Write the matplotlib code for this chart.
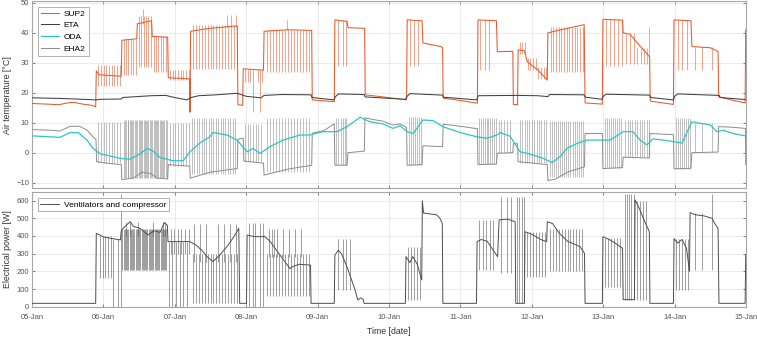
import numpy as np
import matplotlib.pyplot as plt

# time axis: hours since 05-Jan 00:00
day_labels = ['05-Jan', '06-Jan', '07-Jan', '08-Jan', '09-Jan', '10-Jan',
              '11-Jan', '12-Jan', '13-Jan', '14-Jan', '15-Jan']

# ---- air temperatures [degC], (hour, value) breakpoints ----
sup2 = [(0, 16.4), (5, 16.2), (9, 16.0), (12, 16.6), (14, 16.8), (17, 16.2), (20, 15.8), (21.4, 15.3),
        (21.6, 27.3), (22.5, 26.0), (30.0, 25.5),
        (30.2, 37.5), (35.2, 38.0), (35.4, 43.0), (40.2, 44.0),
        (40.4, 38.8), (45.6, 38.5), (45.8, 25.0), (53.0, 24.6),
        (53.1, 13.5), (53.3, 40.5), (60, 41.5), (69.0, 42.3),
        (69.2, 16.0), (70.8, 15.8), (71.0, 28.0), (77.8, 27.5),
        (78.0, 40.5), (86, 41.0), (94.0, 40.8),
        (94.2, 17.6), (101.6, 17.0),
        (101.8, 44.3), (105.9, 43.8), (106.2, 41.7), (111.8, 41.5),
        (112.0, 19.3), (118, 18.6), (125.9, 17.6),
        (126.1, 44.3), (131.1, 44.0), (131.4, 36.6), (137.5, 35.4), (138.0, 35.0),
        (138.2, 18.2), (144, 17.4), (149.7, 16.5),
        (149.9, 44.3), (156.1, 44.0), (156.4, 33.7), (161.6, 33.8),
        (161.8, 16.1), (163.2, 16.0),
        (163.4, 34.3), (165.5, 34.0), (166.5, 30.3), (170, 27.6), (173.2, 24.2),
        (173.4, 40.0), (180, 41.5), (185.6, 42.7),
        (185.9, 16.6), (191.7, 16.2),
        (191.9, 44.5), (198.5, 44.2), (198.7, 40.0), (201, 39.5), (204, 36.0), (207.6, 32.0),
        (207.8, 17.2), (215.6, 16.1),
        (215.8, 44.3), (221.5, 44.0), (221.8, 35.4), (228, 35.0), (230.6, 33.8),
        (230.8, 18.7), (235, 17.6), (239.7, 16.6), (239.9, 41.0), (240, 41.0)]

sup2_spikes = [([22.3, 23.2, 24.1, 25.0, 25.9, 26.8, 27.7, 28.6, 29.5], 22.3, 29.3),
               ([30.8, 31.6, 32.4, 33.2, 34.0, 34.8], 25.8, 38.0),
               ([35.9, 36.7, 37.5, 38.3, 39.1, 39.9], 28.5, 45.5),
               ([37.3], 43.0, 48.0),
               ([40.9, 41.7, 42.5, 43.3, 44.1, 44.9], 27.0, 39.0),
               ([46.4, 47.3, 48.2, 49.1, 50.0, 50.9, 51.8, 52.7], 24.2, 27.6),
               ([54.0, 55.0, 56.0, 57.0, 58.0, 59.0, 60.0, 61.0, 62.0, 63.0, 64.0, 65.0, 66.0, 67.0, 68.0], 28.0, 42.5),
               ([65.5, 67.0, 68.5], 42.0, 45.8),
               ([71.6, 72.5, 73.4, 75.8, 77.2], 23.5, 28.0),
               ([74.3, 76.6], 13.4, 27.7),
               ([79.0, 80.0, 81.0, 82.0, 83.0, 84.0, 85.0, 86.0, 87.0, 88.0, 89.0, 90.0, 91.0, 92.0, 93.0], 27.0, 41.0),
               ([85.6], 41.0, 44.3),
               ([102.9, 104.4, 105.6], 29.0, 44.3),
               ([127.1, 128.4, 129.7], 29.0, 44.3),
               ([150.6, 152.1, 153.6], 27.7, 44.3),
               ([164.0, 164.8, 165.6], 33.0, 37.0),
               ([166.6, 167.5, 168.4, 169.3], 27.5, 31.5),
               ([170.2, 171.1, 172.0, 172.9], 24.5, 28.5),
               ([174.3, 175.2, 176.1, 177.0, 177.9, 178.8, 179.7, 180.6, 181.5, 182.4, 183.3, 184.2, 185.1], 27.0, 42.0),
               ([193.0, 194.3, 195.6, 196.9, 198.2], 29.0, 44.5),
               ([199.8, 201.0, 202.2], 29.5, 39.8),
               ([203.4, 204.6, 205.8, 206.8], 29.5, 35.0),
               ([207.5], 32.0, 42.0),
               ([217.0, 218.5, 220.0], 27.7, 44.3),
               ([222.9, 225.2, 228.6], 27.7, 35.2)]

eta = [(0, 18.3), (9, 18.1), (15, 17.9), (21.5, 17.6), (23, 17.8), (30, 17.9), (30.5, 18.4), (40, 19.0),
       (45, 19.1), (47, 18.6), (52, 17.6), (53.5, 18.4), (56, 19.0), (62, 19.3), (66, 19.6), (69, 19.8),
       (72, 18.8), (77, 18.3), (78, 19.1), (84, 19.4), (93.8, 19.3), (94.1, 18.4), (101.5, 17.6),
       (102, 18.7), (103, 19.6), (111.6, 19.4), (112, 18.6), (125.5, 17.8), (126.1, 18.8), (127, 19.7),
       (138, 19.2), (138.3, 18.5), (149.5, 17.6), (150, 19.0), (163, 19.1), (170, 19.0), (173.4, 18.7),
       (174, 19.4), (185.5, 19.3), (186, 18.5), (191.6, 17.8), (192, 18.8), (193, 19.5), (207.5, 19.2),
       (207.9, 18.4), (215.6, 17.6), (216, 18.8), (217, 19.6), (231, 19.1), (231.2, 18.4), (240, 17.7)]

oda = [(0, 5.6), (9.4, 5.1), (12.8, 6.7), (15.5, 6.7), (18.5, 4.2), (20.5, 1.4), (22.9, -0.4), (26.2, -1.1),
       (29.6, -1.9), (32.9, -2.2), (36.3, -0.4), (38.7, 1.4), (40.7, 0.5), (43.0, -1.6), (47.4, -2.7),
       (50.8, -2.7), (53.1, 0.3), (56.5, 3.3), (59.8, 5.3), (60.8, 6.7), (65.5, 5.9), (68.9, 4.2),
       (72.3, 0.3), (74.3, 1.4), (76.6, -0.3), (80.0, 2.0), (84.4, 4.2), (90.1, 5.9), (93.4, 5.9),
       (97.8, 7.0), (102.5, 7.0), (105.9, 8.7), (110.3, 11.8), (113.6, 10.3), (118.0, 9.6), (121.3, 8.1),
       (123.7, 9.0), (126.1, 7.0), (128.1, 6.4), (131.4, 10.9), (134.8, 10.7), (138.1, 8.7), (143.9, 6.7),
       (149.6, 5.3), (152.9, 4.8), (156.3, 5.9), (157.3, 6.7), (160.7, 5.5), (164.0, 0.3), (166.4, -0.2),
       (168.4, -0.8), (171.8, -1.9), (174.8, -3.3), (177.5, -1.3), (179.8, 1.4), (183.2, 3.1), (186.5, 4.2),
       (190.9, 4.2), (194.3, 4.2), (198.7, 7.0), (202.0, 7.0), (204.4, 4.2), (206.7, 2.6), (208.7, 4.6),
       (212.1, 4.2), (215.5, 3.7), (218.5, 3.2), (221.8, 10.3), (224.5, 9.8), (227.9, 9.3), (230.2, 7.0),
       (232.3, 7.5), (235.6, 6.4), (239.7, 5.6), (240, 5.2)]

eha2 = [(0, 7.7), (6, 7.5), (9.4, 7.2), (12.8, 8.8), (16, 8.8), (18.5, 7.5), (20.8, 4.9), (21.5, 4.5),
        (21.7, -3.0), (25, -3.5), (30.0, -4.0),
        (30.2, -9.0), (34, -8.5), (37, -6.5), (40, -7.0), (42, -8.5), (45.6, -8.8),
        (45.8, -4.0), (53.0, -4.5), (53.2, -8.5), (60, -6.5), (69.0, -5.3),
        (69.2, 4.5), (71.0, 4.8), (71.2, -2.8), (77.8, -3.5),
        (78.0, -7.5), (86, -5.5), (94.0, -4.2),
        (94.2, 6.5), (98, 7.3), (101.6, 9.6),
        (101.8, -4.2), (105.9, -4.2), (106.2, 0.0), (111.7, 0.5),
        (111.9, 11.6), (115, 11.0), (118, 10.5), (121.3, 9.2), (123.7, 9.6), (125.9, 8.4),
        (126.1, -4.2), (131.1, -4.0), (131.4, 2.3), (138.0, 2.0),
        (138.2, 9.5), (143.9, 8.8), (149.7, 8.0),
        (149.9, -4.0), (156.1, -3.8), (156.4, -0.2), (161.6, 0.0),
        (161.8, 3.0), (163.2, 3.0), (163.4, -3.0), (173.2, -4.0),
        (173.4, -9.3), (176, -8.8), (180, -6.5), (185.7, -4.7),
        (185.9, 6.4), (191.7, 6.4),
        (191.9, -5.3), (198.5, -5.0), (198.7, -1.5), (207.5, -1.8),
        (207.7, 6.4), (215.6, 6.0),
        (215.8, -5.4), (221.5, -5.2), (221.8, 0.0), (230.6, 0.2),
        (230.8, 8.7), (235, 8.5), (239.8, 8.1), (239.9, -4.0), (240, -4.0)]

eha2_spikes = [([22.3, 23.2, 24.1, 25.0, 25.9, 26.8, 27.7, 28.6, 29.5], -3.5, 10.3),
               ([30.8, 31.3, 31.6, 32.1, 32.4, 32.9, 33.2, 33.7, 34.0, 34.5, 34.8, 35.3, 35.9, 36.3, 36.7,
                 37.1, 37.5, 37.9, 38.3, 38.7, 39.1, 39.5, 39.9, 40.4, 40.9, 41.3, 41.7, 42.1, 42.5, 42.9,
                 43.3, 43.7, 44.1, 44.5, 44.9, 45.3], -8.5, 10.8),
               ([46.4, 47.3, 48.2, 49.1, 50.0, 50.9, 51.8, 52.7], -4.3, 10.0),
               ([53.8, 54.6, 55.4, 56.2, 57.0, 57.8, 58.6, 59.4, 60.2, 61.0, 61.8, 62.6, 63.4, 64.2, 65.0,
                 65.8, 66.6, 67.4, 68.2], -7.0, 11.5),
               ([71.6, 72.5, 73.4, 74.3, 75.2, 76.1, 77.0], -3.2, 9.5),
               ([79.0, 80.0, 81.0, 82.0, 83.0, 84.0, 85.0, 86.0, 87.0, 88.0, 89.0, 90.0, 91.0, 92.0, 93.0], -6.5, 11.4),
               ([102.2, 102.9, 103.7, 104.4, 105.2, 105.6], -4.2, 11.4),
               ([126.7, 127.4, 128.1, 128.7, 129.4, 130.1, 130.7], -4.1, 12.0),
               ([150.3, 150.9, 151.5, 152.1, 152.8, 153.4, 154.0, 154.6, 155.2, 155.8], -3.9, 11.4),
               ([156.8, 157.8, 158.8, 159.8, 160.8], -0.1, 11.0),
               ([164.0, 164.8, 165.6, 166.4, 167.2, 168.0, 168.8, 169.6, 170.4, 171.2, 172.0, 172.8], -3.5, 11.0),
               ([174.0, 174.7, 175.4, 176.1, 176.8, 177.5, 178.2, 178.9, 179.6, 180.3, 181.0, 181.7, 182.4,
                 183.1, 183.8, 184.5, 185.2], -8.0, 10.6),
               ([192.5, 193.2, 193.9, 194.6, 195.3, 196.0, 196.7, 197.4, 198.1], -5.1, 11.7),
               ([199.4, 200.2, 201.0, 201.8, 202.6, 203.4, 204.2, 205.0, 205.8, 206.6, 207.3], -1.6, 11.0),
               ([216.4, 217.1, 217.8, 218.5, 219.2, 219.9, 220.6, 221.2], -5.3, 11.5),
               ([222.9, 225.2, 228.6], 0.1, 9.8)]

# ---- electrical power [W] ----
power = [(0, 19), (21.4, 19), (21.6, 415), (24, 395), (27, 385), (29.7, 378),
         (30.0, 430), (31, 450), (33, 481), (34, 455), (36, 445), (37, 434), (39, 405), (41, 430),
         (43, 420), (44.5, 475), (45.5, 460),
         (45.7, 368), (53.0, 368), (55, 350), (57, 320), (59, 280), (60.8, 255), (63, 290), (66, 350),
         (68, 400), (69.5, 443),
         (69.8, 19), (72.1, 19), (72.3, 405), (75, 396), (77.8, 396),
         (78.0, 400), (80, 370), (83, 300), (86.7, 216), (88, 230), (90, 240), (93.6, 235),
         (93.8, 19), (101.6, 19),
         (101.8, 292), (103, 320), (104, 300), (106, 220), (108.6, 94), (109.5, 38), (110.5, 50), (111.4, 40),
         (111.6, 19), (125.5, 19),
         (125.7, 283), (127, 250), (128, 283), (129.5, 240), (131.0, 151),
         (131.2, 599), (131.6, 530), (134, 524), (136, 520), (137.1, 500), (137.9, 471),
         (138.1, 19), (149.4, 19),
         (149.6, 368), (151, 380), (153, 370), (155, 320), (156.5, 283),
         (157.0, 491), (160, 495), (162.4, 480),
         (162.6, 19), (165.5, 19),
         (165.7, 424), (168, 410), (171, 380), (173.0, 368),
         (173.2, 481), (175, 470), (177, 420), (180, 370), (184.2, 340), (185.7, 302),
         (185.9, 19), (191.7, 19),
         (191.9, 396), (194, 380), (196, 360), (198.5, 330),
         (198.7, 40), (202.5, 40),
         (202.7, 604), (204, 560), (206, 480), (207.5, 424),
         (207.7, 19), (215.6, 19),
         (215.8, 385), (217, 360), (218.5, 380), (220, 330), (221.0, 200),
         (221.2, 532), (223, 520), (226, 513), (228.6, 500), (229.5, 470), (230.6, 443),
         (230.9, 19), (239.7, 19), (239.9, 292), (240, 292)]

power_spikes = [([22.8, 23.7, 24.6, 25.5, 26.4], 165, 400),
                ([27.2, 28.9], 0, 385),
                ([29.9], 0, 640),
                ([30.4, 30.8, 31.2, 31.6, 32.0, 32.4, 32.8, 33.2, 33.6, 34.0, 34.4, 34.8, 35.2, 35.6, 36.0,
                  36.4, 36.8, 37.2, 37.6, 38.0, 38.4, 38.8, 39.2, 39.6, 40.0, 40.4, 40.8, 41.2, 41.6, 42.0,
                  42.4, 42.8, 43.2, 43.6, 44.0, 44.4, 44.8, 45.2], 210, 440),
                ([31.5, 33.0, 35.5, 40.5, 44.0, 44.8], 400, 480),
                ([46.2, 47.2, 48.4, 49.6, 50.8, 52.0], 0, 368),
                ([46.6, 47.8, 49.0, 50.2, 51.4, 52.6], 300, 440),
                ([54.0, 55.0, 56.0, 57.0, 58.0, 59.0, 60.0, 61.0, 62.0, 63.0, 64.0, 65.0, 66.0, 67.0, 68.0, 69.0], 20, 300),
                ([54.5, 56.5, 58.5, 62.5, 64.5, 66.5, 68.5], 250, 470),
                ([73.0, 74.3, 75.0, 76.6, 77.6], 0, 471),
                ([79.0, 80.0, 81.0, 82.0, 83.0, 84.0, 85.0, 86.0, 87.0, 88.0, 89.0, 90.0, 91.0, 92.0, 93.0], 60, 300),
                ([79.5, 80.5, 81.5, 82.5, 84.5, 86.5, 88.5, 90.5], 280, 440),
                ([102.9, 104.4, 105.6, 107.0], 94, 385),
                ([126.4, 127.3, 128.3, 129.4, 130.3], 38, 340),
                ([150.3, 151.5, 152.7, 153.9, 155.1], 208, 491),
                ([157.8, 159.5, 161.0], 189, 623),
                ([163.0, 163.8, 164.6, 165.3], 19, 623),
                ([166.5, 167.5, 168.5, 169.5, 170.5, 171.5, 172.5], 170, 420),
                ([174.0, 175.0, 176.0, 177.0, 178.0, 179.0, 180.0, 181.0, 182.0, 183.0, 184.0, 185.0], 200, 440),
                ([192.5, 193.5, 194.5, 195.5, 196.5, 197.5], 113, 390),
                ([199.2, 199.9, 200.7, 201.5, 202.2], 40, 640),
                ([203.5, 204.5, 205.5, 206.5], 38, 600),
                ([216.5, 217.5, 218.5, 219.5, 220.5], 94, 385),
                ([222.9, 225.2], 208, 532),
                ([228.6], 208, 640)]

c_sup2, c_eta, c_oda, c_eha2, c_pow = '#E9582A', '#404040', '#2EC4C6', '#8C8C8C', '#4D4D4D'


def trace(ax, pts, spikes, color, lw, label, z):
    t = np.array([p[0] for p in pts]) / 24.0
    v = np.array([p[1] for p in pts])
    ax.plot(t, v, color=color, lw=lw, label=label, zorder=z)
    for hrs, lo, hi in spikes:
        ax.vlines(np.array(hrs) / 24.0, lo, hi, color=color, lw=0.45, alpha=0.85, zorder=z - 0.5)


plt.rcParams['font.family'] = ['Liberation Sans', 'DejaVu Sans']
fig = plt.figure(figsize=(7.57, 3.37), dpi=100)
ax1 = fig.add_axes([0.0423, 0.4412, 0.9432, 0.5558])
ax2 = fig.add_axes([0.0423, 0.0899, 0.9432, 0.3395])

trace(ax1, sup2, sup2_spikes, c_sup2, 0.75, 'SUP2', 3)
trace(ax1, eta, [], c_eta, 0.75, 'ETA', 4)
trace(ax1, eha2, eha2_spikes, c_eha2, 0.7, 'EHA2', 2)
trace(ax1, oda, [], c_oda, 0.9, 'ODA', 5)
trace(ax2, power, power_spikes, c_pow, 0.7, 'Ventilators and compressor', 3)

for ax in (ax1, ax2):
    ax.set_xlim(0, 10)
    ax.set_xticks(range(11))
    ax.grid(True, color='#e3e3e3', lw=0.5)
    ax.set_axisbelow(True)
    ax.tick_params(direction='in', length=2.5, width=0.5, colors='#555555', labelsize=5.5,
                   top=True, right=True, pad=2)
    for s in ax.spines.values():
        s.set_color('#a6a6a6')
        s.set_linewidth(0.8)

ax1.set_ylim(-11.9, 50.6)
ax1.set_yticks([-10, 0, 10, 20, 30, 40, 50])
ax1.set_xticklabels([])
ax2.set_ylim(0, 647)
ax2.set_yticks([0, 100, 200, 300, 400, 500, 600])
ax2.set_xticklabels(day_labels)
ax2.tick_params(axis='x', pad=5)

h, l = ax1.get_legend_handles_labels()
order = [l.index(n) for n in ['SUP2', 'ETA', 'ODA', 'EHA2']]
leg1 = ax1.legend([h[i] for i in order], [l[i] for i in order], loc='upper left',
                  bbox_to_anchor=(0.008, 0.97), borderaxespad=0, fontsize=6, handlelength=2.2,
                  handletextpad=0.5, labelspacing=0.45, borderpad=0.4, fancybox=False,
                  edgecolor='#a6a6a6', framealpha=1)
leg1.get_frame().set_linewidth(0.6)
leg2 = ax2.legend(loc='upper left', bbox_to_anchor=(0.008, 0.948), borderaxespad=0, fontsize=6,
                  handlelength=2.3, handletextpad=0.5, borderpad=0.3, fancybox=False,
                  edgecolor='#a6a6a6', framealpha=1)
leg2.get_frame().set_linewidth(0.6)

fig.text(8 / 757, 1 - 95 / 337, 'Air temperature [°C]', rotation=90, ha='center', va='center',
         fontsize=6.3, color='#333333')
fig.text(8 / 757, 1 - 249.5 / 337, 'Electrical power [W]', rotation=90, ha='center', va='center',
         fontsize=6.3, color='#333333')
fig.text(389 / 757, 1 - 332 / 337, 'Time [date]', ha='center', va='center', fontsize=6.3, color='#333333')

fig.savefig('out.png', dpi=100)
